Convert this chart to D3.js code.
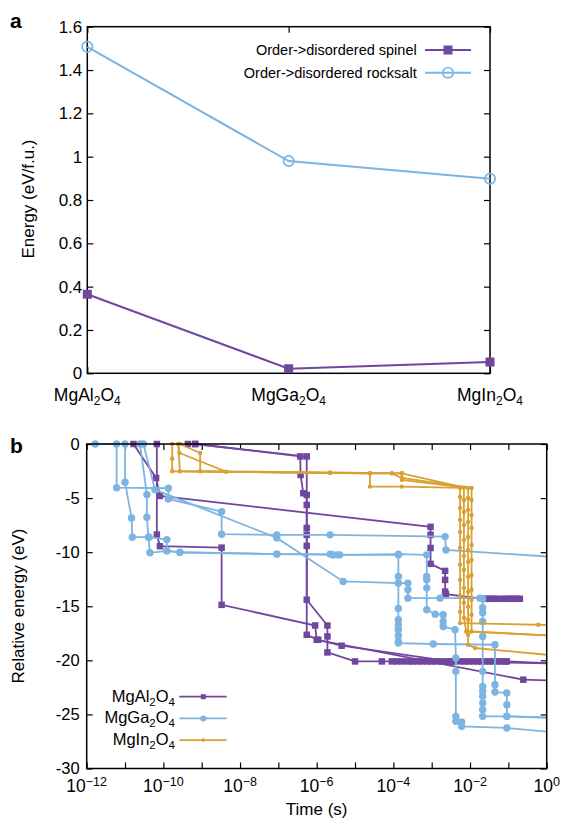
<!DOCTYPE html>
<html>
<head>
<meta charset="utf-8">
<script src="https://cdn.jsdelivr.net/npm/d3@7"></script>
<style>
body { margin: 0; background: #fff; }
svg { font-family: "Liberation Sans", Arial, Helvetica, sans-serif; }
</style>
</head>
<body>
<svg id="chart" width="581" height="824"></svg>
<script>
// ---- panel a data ----
var compounds = ["MgAl2O4", "MgGa2O4", "MgIn2O4"];
var spinelEnergy = [0.365, 0.021, 0.052];
var rocksaltEnergy = [1.507, 0.98, 0.898];
var energyTicks = [0, 0.2, 0.4, 0.6, 0.8, 1, 1.2, 1.4, 1.6];
var legendA = ["Order->disordered spinel", "Order->disordered rocksalt"];

// ---- panel b data: [log10(time / s), relative energy (eV)] ----
var al1 = [[-10.78,0],[-10.19,-3.14],[-10.09,-4.80],[-3.03,-7.66],[-3.03,-8.40],[-3.03,-9.61],[-3.03,-11.08],[-2.65,-11.73],[-2.65,-12.56],[-2.65,-13.64],[-2.63,-13.88],[-1.65,-14.31],[-1.56,-14.31],[-1.48,-14.31],[-1.40,-14.31],[-1.33,-14.31],[-1.22,-14.31],[-1.09,-14.31],[-1.01,-14.31],[-0.93,-14.31],[-0.85,-14.31],[-0.77,-14.31],[-0.70,-14.31]];
var al2 = [[-10.17,0],[-10.17,-8.37],[-10.09,-9.45],[-8.48,-9.58],[-8.48,-14.87],[-6.04,-16.78],[-6.0,-18.10],[-0.61,-21.79],[0.35,-21.9]];
var al3 = [[-9.36,0],[-9.17,0],[-6.43,-1.15],[-6.42,-2.86],[-6.35,-4.55],[-6.26,-4.71],[-6.26,-5.63],[-6.26,-7.76],[-6.26,-8.40],[-6.26,-9.42],[-6.26,-14.40],[-5.72,-16.78],[-5.72,-17.79],[-5.72,-19.27],[-5.0,-20.10],[-4.3,-20.10],[-4.04,-20.10],[-3.9,-20.10],[-3.78,-20.10],[-3.62,-20.10],[-3.5,-20.10],[-3.38,-20.10],[-3.25,-20.10],[-3.12,-20.10],[-3.0,-20.10],[-2.88,-20.10],[-2.75,-20.10],[-2.62,-20.10],[-2.5,-20.10],[-2.44,-20.10],[-2.26,-20.10],[-2.15,-20.10],[-2.04,-20.10],[-1.92,-20.10],[-1.8,-20.10],[-1.7,-20.10],[-1.6,-20.10],[-1.5,-20.10],[-1.4,-20.10],[-1.3,-20.10],[-1.2,-20.10],[-1.1,-20.10],[-1.04,-20.10],[0.35,-20.3]];
var al4 = [[-9.17,0],[-6.26,-1.15],[-6.26,-17.64],[-5.96,-18.10],[-5.35,-18.65],[-2.52,-20.1],[0.35,-20.3]];

var ga1 = [[-11.78,0],[-11.22,0],[-11.22,-4.04],[-9.87,-4.09],[-9.87,-5.08],[-8.48,-6.25],[-8.48,-8.34],[-7.04,-8.40],[-5.65,-8.40],[-2.65,-8.56],[-2.63,-9.79],[0.35,-10.48]];
var ga2 = [[-11.0,0],[-11.0,-3.54],[-10.83,-6.83],[-10.81,-8.61],[-10.37,-8.61],[-9.91,-8.84],[-9.91,-9.88],[-9.57,-10.0],[-7.04,-10.18],[-5.57,-10.25],[-5.45,-10.25],[-3.87,-10.18],[-3.13,-10.25],[-3.13,-12.25],[-3.13,-12.56],[-3.13,-13.30],[-3.13,-15.33],[-2.91,-15.73],[-2.70,-15.79],[-2.70,-16.41],[-2.70,-16.87],[-2.39,-17.17],[-2.37,-19.79],[-2.37,-21.02],[-2.37,-25.18],[-2.37,-25.64],[-2.22,-25.70],[-2.22,-26.10],[-1.04,-26.25],[0.35,-26.7]];
var ga3 = [[-10.52,0],[-10.22,-4.22],[-7.04,-8.68],[-5.31,-12.71],[-3.87,-12.86],[-3.62,-12.86],[-3.62,-13.48],[-3.62,-14.25],[-2.78,-14.25],[-1.74,-14.25],[-1.67,-14.31],[-1.67,-15.14],[-1.67,-15.6],[-1.67,-16.41],[-1.67,-17.79],[-1.67,-21.02],[-1.67,-22.41],[-1.67,-22.87],[-1.67,-23.33],[-1.67,-23.94],[-1.67,-24.56],[-1.67,-25.18],[-1.04,-25.18],[0.35,-25.3]];
var ga4 = [[-10.61,0],[-10.43,-4.68],[-10.43,-6.77],[-10.39,-8.61],[-10.35,-10.06],[-9.91,-9.88],[-9.57,-10.03],[-7.04,-10.18],[-5.65,-10.18],[-5.57,-10.25],[-5.40,-10.25],[-3.87,-10.25],[-3.87,-12.25],[-3.87,-12.86],[-3.87,-15.20],[-3.87,-16.25],[-3.87,-16.71],[-3.87,-17.17],[-3.87,-17.73],[-3.87,-18.26],[-3.87,-18.40],[-2.96,-18.49],[-1.35,-18.56],[-1.35,-22.25],[-1.35,-22.93],[-1.04,-23.02],[-1.04,-24.1],[-1.04,-25.18],[0.35,-25.35]];

var in1 = [[-9.77,0],[-9.77,-1.36],[-9.77,-2.52],[-4.61,-2.71],[-4.61,-3.94],[-3.78,-3.94],[-2.26,-4.06],[-2.26,-4.89],[-2.26,-5.91],[-2.26,-7.02],[-2.26,-8.13],[-2.26,-9.6],[-2.26,-11.17],[-2.26,-12.56],[-2.26,-14.03],[-2.26,-15.51],[-2.26,-16.56],[-0.22,-16.71],[0.35,-16.8]];
var in2 = [[-9.61,0],[-9.58,-0.83],[-8.37,-2.56],[-5.65,-2.68],[-4.04,-2.71],[-3.78,-2.71],[-2.16,-4.02],[-2.16,-5.17],[-2.16,-6.28],[-2.16,-7.48],[-2.16,-8.86],[-2.16,-10.34],[-2.16,-11.63],[-2.16,-13.30],[-2.16,-14.68],[-2.16,-16.07],[-2.10,-17.33],[0.35,-17.75]];
var in3 = [[-9.57,0],[-9.04,-0.83],[-9.04,-2.52],[-5.65,-2.63],[-3.78,-2.71],[-3.78,-3.32],[-2.05,-4.06],[-2.05,-4.99],[-2.05,-6.09],[-2.05,-7.2],[-2.05,-8.59],[-2.05,-9.79],[-2.05,-10.9],[-2.05,-12.28],[-2.05,-13.67],[-2.05,-15.05],[-2.05,-16.25],[-2.05,-17.64],[-2.05,-18.56],[-1.87,-18.86],[0.35,-19.6]];
var in4 = [[-9.61,0],[-9.57,-2.52],[-4.61,-2.71],[-4.04,-2.71],[-3.78,-3.14],[-1.96,-4.06],[-1.96,-5.17],[-1.96,-6.56],[-1.96,-7.76],[-1.96,-9.33],[-1.96,-10.71],[-1.96,-12.1],[-1.96,-13.48],[-1.96,-14.40],[-1.96,-15.79],[-1.96,-17.33],[0.35,-17.75]];

var timeTicks = [-12, -11, -10, -9, -8, -7, -6, -5, -4, -3, -2, -1, 0];
var relTicks = [-30, -25, -20, -15, -10, -5, 0];

var purple = "#70469f", blue = "#7db4e2", orange = "#d9a032";

var svg = d3.select("#chart");

// write a formula like MgAl2O4 with subscript digits
function chem(sel, name, size, subSize) {
  var parts = name.match(/[A-Za-z]+|\d+/g);
  var low = false;
  parts.forEach(function(p) {
    var t = sel.append("tspan").text(p);
    if (/\d/.test(p)) {
      t.attr("font-size", subSize).attr("dy", low ? 0 : 4);
      low = true;
    } else {
      t.attr("font-size", size).attr("dy", low ? -4 : 0);
      low = false;
    }
  });
}

function styleAxis(g) {
  g.select(".domain").remove();
  g.selectAll(".tick line").attr("stroke", "#000").attr("stroke-width", 1.2);
  g.selectAll("text").attr("fill", "#000");
}

// =================== panel a ===================
var ax = d3.scalePoint().domain(compounds).range([87.3, 490]);
var ay = d3.scaleLinear().domain([0, 1.6]).range([373.3, 26.7]);

svg.append("g").attr("transform", "translate(87.3,0)")
  .call(d3.axisLeft(ay).tickValues(energyTicks).tickSize(-6).tickPadding(5)
    .tickFormat(function(d) { return String(+d.toFixed(1)); }))
  .call(styleAxis)
  .selectAll("text").attr("font-size", 17).attr("font-family", null);
svg.append("g").attr("transform", "translate(490,0)")
  .call(d3.axisRight(ay).tickValues(energyTicks).tickSize(-6).tickFormat(""))
  .call(styleAxis);
svg.append("g").attr("transform", "translate(0,373.3)")
  .call(d3.axisBottom(ax).tickSize(-6).tickFormat(""))
  .call(styleAxis);
svg.append("g").attr("transform", "translate(0,26.7)")
  .call(d3.axisTop(ax).tickSize(-6).tickFormat(""))
  .call(styleAxis);

svg.append("rect").attr("x", 87.3).attr("y", 26.7)
  .attr("width", 490 - 87.3).attr("height", 373.3 - 26.7)
  .attr("fill", "none").attr("stroke", "#000").attr("stroke-width", 1.5);

compounds.forEach(function(c) {
  var t = svg.append("text").attr("x", ax(c)).attr("y", 401)
    .attr("text-anchor", "middle");
  chem(t, c, 17.5, 12);
});

svg.append("text").attr("transform", "translate(34,199) rotate(-90)")
  .attr("text-anchor", "middle").attr("font-size", 17)
  .text("Energy (eV/f.u.)");

svg.append("text").attr("x", 10).attr("y", 28)
  .attr("font-size", 21).attr("font-weight", "bold").text("a");

var lineA = d3.line()
  .x(function(d, i) { return ax(compounds[i]); })
  .y(function(d) { return ay(d); });

svg.append("path").datum(spinelEnergy)
  .attr("fill", "none").attr("stroke", purple).attr("stroke-width", 2)
  .attr("d", lineA);
svg.append("path").datum(rocksaltEnergy)
  .attr("fill", "none").attr("stroke", blue).attr("stroke-width", 2)
  .attr("d", lineA);

svg.selectAll(".sqA").data(spinelEnergy).enter().append("rect")
  .attr("x", function(d, i) { return ax(compounds[i]) - 4.5; })
  .attr("y", function(d) { return ay(d) - 4.5; })
  .attr("width", 9).attr("height", 9).attr("fill", purple);
svg.selectAll(".ciA").data(rocksaltEnergy).enter().append("circle")
  .attr("cx", function(d, i) { return ax(compounds[i]); })
  .attr("cy", function(d) { return ay(d); })
  .attr("r", 5.2).attr("fill", "none").attr("stroke", blue).attr("stroke-width", 1.7);

// legend a
[0, 1].forEach(function(i) {
  var yy = 50 + i * 22.7;
  svg.append("text").attr("x", 416.7).attr("y", yy + 5)
    .attr("text-anchor", "end").attr("font-size", 14.5).text(legendA[i]);
  svg.append("line").attr("x1", 425).attr("x2", 471).attr("y1", yy).attr("y2", yy)
    .attr("stroke", i ? blue : purple).attr("stroke-width", 2);
  if (i == 0) {
    svg.append("rect").attr("x", 448 - 4.5).attr("y", yy - 4.5)
      .attr("width", 9).attr("height", 9).attr("fill", purple);
  } else {
    svg.append("circle").attr("cx", 448).attr("cy", yy).attr("r", 5.2)
      .attr("fill", "none").attr("stroke", blue).attr("stroke-width", 1.7);
  }
});

// =================== panel b ===================
var bx = d3.scaleLog().domain([1e-12, 1]).range([86.7, 546.7]);
var by = d3.scaleLinear().domain([-30, 0]).range([768.5, 444]);
var tick10 = timeTicks.map(function(e) { return Math.pow(10, e); });

svg.append("g").attr("transform", "translate(86.7,0)")
  .call(d3.axisLeft(by).tickValues(relTicks).tickSize(-6).tickPadding(7)
    .tickFormat(function(d) { return String(d); }))
  .call(styleAxis)
  .selectAll("text").attr("font-size", 16.5).attr("font-family", null);
svg.append("g").attr("transform", "translate(546.7,0)")
  .call(d3.axisRight(by).tickValues(relTicks).tickSize(-6).tickFormat(""))
  .call(styleAxis);
svg.append("g").attr("transform", "translate(0,768.5)")
  .call(d3.axisBottom(bx).tickValues(tick10).tickSize(-6).tickFormat(""))
  .call(styleAxis);
svg.append("g").attr("transform", "translate(0,444)")
  .call(d3.axisTop(bx).tickValues(tick10).tickSize(-6).tickFormat(""))
  .call(styleAxis);

// labelled decades
timeTicks.filter(function(e) { return e % 2 == 0; }).forEach(function(e) {
  var t = svg.append("text").attr("x", bx(Math.pow(10, e))).attr("y", 792)
    .attr("text-anchor", "middle").attr("font-size", 17.5);
  t.append("tspan").text("10");
  t.append("tspan").attr("font-size", 12.5).attr("dy", -6)
    .text(e == 0 ? "0" : "\u2212" + (-e));
});

svg.append("text").attr("x", 316.7).attr("y", 815).attr("text-anchor", "middle")
  .attr("font-size", 17).text("Time (s)");
svg.append("text").attr("transform", "translate(24,606) rotate(-90)")
  .attr("text-anchor", "middle").attr("font-size", 17).text("Relative energy (eV)");
svg.append("text").attr("x", 10).attr("y", 453)
  .attr("font-size", 21).attr("font-weight", "bold").text("b");

svg.append("clipPath").attr("id", "clipB").append("rect")
  .attr("x", 86.7).attr("y", 440).attr("width", 460).attr("height", 330);

var lineB = d3.line()
  .x(function(d) { return bx(Math.pow(10, d[0])); })
  .y(function(d) { return by(d[1]); });

var groups = [
  { runs: [al1, al2, al3, al4], color: purple, mark: "square", size: 6.5 },
  { runs: [ga1, ga2, ga3, ga4], color: blue, mark: "circle", size: 3.7 },
  { runs: [in1, in2, in3, in4], color: orange, mark: "circle", size: 2.2 }
];

groups.forEach(function(gp) {
  gp.runs.forEach(function(run) {
    svg.append("path").datum(run).attr("clip-path", "url(#clipB)")
      .attr("fill", "none").attr("stroke", gp.color).attr("stroke-width", 1.8)
      .attr("d", lineB);
    var pts = run.filter(function(d) { return d[0] <= 0; });
    if (gp.mark == "square") {
      svg.selectAll(null).data(pts).enter().append("rect")
        .attr("x", function(d) { return bx(Math.pow(10, d[0])) - gp.size / 2; })
        .attr("y", function(d) { return by(d[1]) - gp.size / 2; })
        .attr("width", gp.size).attr("height", gp.size).attr("fill", gp.color);
    } else {
      svg.selectAll(null).data(pts).enter().append("circle")
        .attr("cx", function(d) { return bx(Math.pow(10, d[0])); })
        .attr("cy", function(d) { return by(d[1]); })
        .attr("r", gp.size).attr("fill", gp.color);
    }
  });
});

svg.append("rect").attr("x", 86.7).attr("y", 444)
  .attr("width", 460).attr("height", 768.5 - 444)
  .attr("fill", "none").attr("stroke", "#000").attr("stroke-width", 1.5);

// legend b
var legendB = [
  { name: "MgAl2O4", color: purple, mark: "square", size: 5 },
  { name: "MgGa2O4", color: blue, mark: "circle", size: 3 },
  { name: "MgIn2O4", color: orange, mark: "circle", size: 1.8 }
];
legendB.forEach(function(l, i) {
  var yy = 696.7 + i * 21.7;
  var t = svg.append("text").attr("x", 175).attr("y", yy + 5).attr("text-anchor", "end");
  chem(t, l.name, 16.5, 11.5);
  svg.append("line").attr("x1", 179.3).attr("x2", 226.7).attr("y1", yy).attr("y2", yy)
    .attr("stroke", l.color).attr("stroke-width", 1.8);
  if (l.mark == "square") {
    svg.append("rect").attr("x", 203.3 - l.size / 2).attr("y", yy - l.size / 2)
      .attr("width", l.size).attr("height", l.size).attr("fill", l.color);
  } else {
    svg.append("circle").attr("cx", 203.3).attr("cy", yy).attr("r", l.size).attr("fill", l.color);
  }
});
</script>
</body>
</html>
